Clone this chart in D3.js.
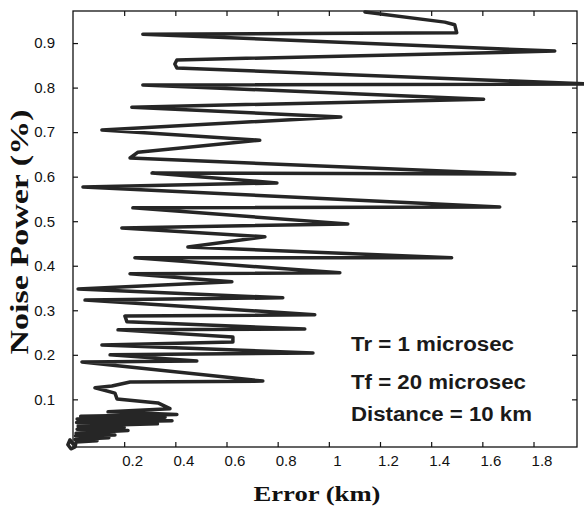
<!DOCTYPE html>
<html>
<head>
<meta charset="utf-8">
<script src="https://cdn.jsdelivr.net/npm/d3@7"></script>
<style>
  html, body { margin: 0; padding: 0; background: #fff; }
  svg { display: block; }
</style>
</head>
<body>
<svg id="chart" width="584" height="516"></svg>
<script>
// Ranging error (km) traced against noise power (%), in drawing order
const errorKm = [
  0.000, -0.012, -0.020, -0.008, 0.008, 0.012, 0.094, 0.008, 0.140, 0.010,
  0.164, 0.012, 0.215, 0.016, 0.200, 0.020, 0.330, 0.014, 0.387, 0.016,
  0.360, 0.030, 0.406, 0.137, 0.379, 0.332, 0.172, 0.164,
  0.086, 0.152, 0.223, 0.742, 0.035, 0.484, 0.145, 0.938, 0.113, 0.625,
  0.625, 0.176, 0.906, 0.211, 0.203, 0.945, 0.047, 0.820, 0.020, 0.621,
  0.223, 1.043, 0.242, 1.480, 0.449, 0.750, 0.191, 1.074, 0.234, 1.668,
  0.039, 0.797, 0.309, 1.727, 0.223, 0.254, 0.730, 0.113, 1.047, 0.230,
  1.605, 0.273, 2.020, 0.406, 0.398, 0.406, 1.883, 0.273, 1.500, 1.492,
  1.453, 1.141
];
const noisePower = [
  0.000, 0.009, -0.002, -0.011, -0.007, 0.004, 0.007, 0.010, 0.014, 0.018,
  0.020, 0.024, 0.030, 0.033, 0.037, 0.040, 0.045, 0.048, 0.052, 0.056,
  0.060, 0.062, 0.066, 0.072, 0.079, 0.092, 0.101, 0.114,
  0.126, 0.130, 0.139, 0.141, 0.184, 0.186, 0.200, 0.204, 0.222, 0.229,
  0.240, 0.256, 0.258, 0.274, 0.287, 0.290, 0.323, 0.328, 0.348, 0.364,
  0.382, 0.384, 0.418, 0.418, 0.442, 0.465, 0.485, 0.494, 0.530, 0.532,
  0.577, 0.586, 0.608, 0.606, 0.642, 0.655, 0.682, 0.705, 0.734, 0.756,
  0.774, 0.806, 0.808, 0.844, 0.853, 0.862, 0.882, 0.920, 0.923, 0.941,
  0.947, 0.970
];

const xTicks = [0.2, 0.4, 0.6, 0.8, 1.0, 1.2, 1.4, 1.6, 1.8];
const yTicks = [0.1, 0.2, 0.3, 0.4, 0.5, 0.6, 0.7, 0.8, 0.9];
const xTickLabels = ["0.2", "0.4", "0.6", "0.8", "1", "1.2", "1.4", "1.6", "1.8"];
const yTickLabels = ["0.1", "0.2", "0.3", "0.4", "0.5", "0.6", "0.7", "0.8", "0.9"];

const notes = ["Tr = 1 microsec", "Tf = 20 microsec", "Distance = 10 km"];
const xTitle = "Error (km)";
const yTitle = "Noise Power (%)";

const svg = d3.select("#chart");
const box = { left: 73, right: 577, top: 11, bottom: 447 };

const x = d3.scaleLinear().domain([0, 1.97]).range([box.left, box.right]);
const y = d3.scaleLinear().domain([-0.007, 0.972]).range([box.bottom, box.top]);

const tickFont = "'Liberation Sans', Arial, sans-serif";
const titleFont = "'Liberation Serif', 'Times New Roman', serif";

// bottom axis with inward ticks
const gx = svg.append("g")
  .attr("transform", `translate(0,${box.bottom})`)
  .call(d3.axisBottom(x).tickValues(xTicks)
    .tickFormat((d, i) => xTickLabels[i])
    .tickSizeInner(-5).tickSizeOuter(0).tickPadding(8));
gx.selectAll(".tick text").attr("dx", 8);
// top mirror ticks
const gxt = svg.append("g")
  .attr("transform", `translate(0,${box.top})`)
  .call(d3.axisTop(x).tickValues(xTicks).tickFormat("")
    .tickSizeInner(-5).tickSizeOuter(0));
// left axis with inward ticks
const gy = svg.append("g")
  .attr("transform", `translate(${box.left},0)`)
  .call(d3.axisLeft(y).tickValues(yTicks)
    .tickFormat((d, i) => yTickLabels[i])
    .tickSizeInner(-5).tickSizeOuter(0).tickPadding(18));
// right mirror ticks
const gyr = svg.append("g")
  .attr("transform", `translate(${box.right},0)`)
  .call(d3.axisRight(y).tickValues(yTicks).tickFormat("")
    .tickSizeInner(-5).tickSizeOuter(0));

[gx, gxt, gy, gyr].forEach(g => {
  g.select(".domain").remove();
  g.selectAll(".tick line").attr("stroke", "#111").attr("stroke-width", 1.2);
  g.selectAll(".tick text")
    .attr("fill", "#111")
    .style("font-family", tickFont)
    .style("font-size", "15px");
});

// frame
svg.append("rect")
  .attr("x", box.left).attr("y", box.top)
  .attr("width", box.right - box.left).attr("height", box.bottom - box.top)
  .attr("fill", "none").attr("stroke", "#111").attr("stroke-width", 1.3);

// data trace
const pts = errorKm.map((e, i) => [e, noisePower[i]]);
const line = d3.line().x(d => x(d[0])).y(d => y(d[1])).curve(d3.curveLinear);
svg.append("path")
  .datum(pts)
  .attr("d", line)
  .attr("fill", "none")
  .attr("stroke", "#262626")
  .attr("stroke-width", 3.5)
  .attr("stroke-linejoin", "round")
  .attr("stroke-linecap", "round");

// annotation block
const noteY = [351, 389, 421];
const noteW = [163, 175, 181];
svg.append("g").selectAll("text")
  .data(notes)
  .join("text")
  .attr("x", 351)
  .attr("y", (d, i) => noteY[i])
  .attr("textLength", (d, i) => noteW[i])
  .attr("lengthAdjust", "spacingAndGlyphs")
  .style("font-family", tickFont)
  .style("font-weight", "bold")
  .style("font-size", "20px")
  .attr("fill", "#1a1a1a")
  .text(d => d);

// axis titles
svg.append("text")
  .attr("x", 317).attr("y", 501)
  .attr("text-anchor", "middle")
  .attr("textLength", 127)
  .attr("lengthAdjust", "spacingAndGlyphs")
  .style("font-family", titleFont)
  .style("font-weight", "bold")
  .style("font-size", "22px")
  .attr("fill", "#111")
  .text(xTitle);

svg.append("text")
  .attr("transform", "translate(28,232) rotate(-90)")
  .attr("text-anchor", "middle")
  .attr("textLength", 245)
  .attr("lengthAdjust", "spacingAndGlyphs")
  .style("font-family", titleFont)
  .style("font-weight", "bold")
  .style("font-size", "25px")
  .attr("fill", "#111")
  .text(yTitle);
</script>
</body>
</html>
